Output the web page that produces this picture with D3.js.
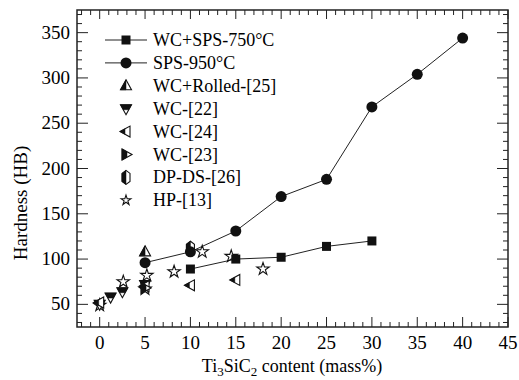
<!DOCTYPE html>
<html><head><meta charset="utf-8">
<script src="https://cdn.jsdelivr.net/npm/d3@7"></script>
</head>
<body style="margin:0">
<svg id="chart" width="519" height="380"></svg>
<script>
// ---- data ----
const xTicks = [0,5,10,15,20,25,30,35,40,45];
const yTicks = [50,100,150,200,250,300,350];
const spsWcX = [10,15,20,25,30];
const spsWcY = [89,100,102,114,120];
const sps950X = [5,10,15,20,25,30,35,40];
const sps950Y = [96,108,131,169,188,268,304,344];
const rolledX = [5];
const rolledY = [108];
const wc22X = [0,1.2,2.5,5];
const wc22Y = [50,58,64,72];
const wc24X = [0,5,10,15];
const wc24Y = [52,70,71,77];
const wc23X = [5];
const wc23Y = [68];
const dpdsX = [10];
const dpdsY = [112];
const hpX = [0,2.6,5.2,5,8.2,11.3,14.5,18];
const hpY = [49,75,82,67,86,108,103,89];
const legendLabels = ["WC+SPS-750°C","SPS-950°C","WC+Rolled-[25]","WC-[22]","WC-[24]","WC-[23]","DP-DS-[26]","HP-[13]"];

const svg = d3.select("#chart");
const L=77,R=508,T=10,B=327;
const x = d3.scaleLinear().domain([-2.5,45]).range([L,R]);
const y = d3.scaleLinear().domain([25,375]).range([B,T]);

const shapes = {
  square: "M-4.5,-4.5H4.5V4.5H-4.5Z",
  triUp: "M0,-6L5.5,4L-5.5,4Z",
  triUpL: "M0,-6L0,4L-5.5,4Z",
  triDown: "M0,6L5.5,-4L-5.5,-4Z",
  triDownT: "M-5.5,-4L5.5,-4L2.75,1L-2.75,1Z",
  triLeft: "M-6,0L4,-5.5L4,5.5Z",
  triLeftL: "M-6,0L-1,-2.75L-1,2.75Z",
  triRight: "M6,0L-4,-5.5L-4,5.5Z",
  triRightL: "M1,-2.75L-4,-5.5L-4,5.5L1,2.75Z",
  hex: "M0,-7L4,-4L4,4L0,7L-4,4L-4,-4Z",
  hexL: "M0,-7L0,7L-4,4L-4,-4Z",
  star: d3.symbol().type(d3.symbolStar).size(48)(),
  starSmall: d3.symbol().type(d3.symbolStar).size(30)()
};

function marker(g, type, halfShape){
  if(type==="circle"){ g.append("circle").attr("r",5.5).attr("fill","#111"); return; }
  if(type==="square"){ g.append("path").attr("d",shapes.square).attr("fill","#111"); return; }
  g.append("path").attr("d",shapes[type]).attr("fill","#fff").attr("stroke","#111").attr("stroke-width",1.1);
  if(halfShape){
    g.append("path").attr("d",shapes[halfShape]).attr("fill","#111").attr("stroke","#111").attr("stroke-width",0.5);
  }
}

function txt(sel){ return sel.style("font-family","'Times New Roman'"); }

const frame = svg.append("g");
const xMinor = d3.range(-2,46,1).filter(v=>v%5!==0);
const yMinor = d3.range(30,375,10).filter(v=>v%50!==0);
const tickG = frame.append("g").attr("stroke","#222").attr("stroke-width",1);
xTicks.forEach(v=>{
  tickG.append("line").attr("x1",x(v)).attr("x2",x(v)).attr("y1",B).attr("y2",B-10);
  tickG.append("line").attr("x1",x(v)).attr("x2",x(v)).attr("y1",T).attr("y2",T+9);
});
xMinor.forEach(v=>{
  tickG.append("line").attr("x1",x(v)).attr("x2",x(v)).attr("y1",B).attr("y2",B-5);
  tickG.append("line").attr("x1",x(v)).attr("x2",x(v)).attr("y1",T).attr("y2",T+5);
});
yTicks.forEach(v=>{
  tickG.append("line").attr("y1",y(v)).attr("y2",y(v)).attr("x1",L).attr("x2",L+11);
  tickG.append("line").attr("y1",y(v)).attr("y2",y(v)).attr("x1",R).attr("x2",R-11);
});
yMinor.forEach(v=>{
  tickG.append("line").attr("y1",y(v)).attr("y2",y(v)).attr("x1",L).attr("x2",L+5);
  tickG.append("line").attr("y1",y(v)).attr("y2",y(v)).attr("x1",R).attr("x2",R-5);
});
frame.append("rect").attr("x",L).attr("y",T).attr("width",R-L).attr("height",B-T)
  .attr("fill","none").attr("stroke","#222").attr("stroke-width",1.5);

txt(frame.selectAll(".xl").data(xTicks).enter().append("text"))
  .attr("x",d=>x(d)).attr("y",349).attr("text-anchor","middle").attr("font-size",19).text(d=>d);
txt(frame.selectAll(".yl").data(yTicks).enter().append("text"))
  .attr("x",70).attr("y",d=>y(d)+6).attr("text-anchor","end").attr("font-size",19).text(d=>d);

const xt = txt(svg.append("text")).attr("x",292).attr("y",372).attr("text-anchor","middle").attr("font-size",18);
xt.append("tspan").text("Ti");
xt.append("tspan").attr("font-size",13).attr("dy",4).text("3");
xt.append("tspan").attr("dy",-4).text("SiC");
xt.append("tspan").attr("font-size",13).attr("dy",4).text("2");
xt.append("tspan").attr("dy",-4).text(" content (mass%)");
txt(svg.append("text")).attr("transform","translate(27,203) rotate(-90)").attr("text-anchor","middle")
  .attr("font-size",19).text("Hardness (HB)");

const line = d3.line().x(d=>x(d[0])).y(d=>y(d[1]));
const plot = svg.append("g");
plot.append("path").datum(d3.zip(spsWcX,spsWcY)).attr("d",line).attr("fill","none").attr("stroke","#222").attr("stroke-width",1);
plot.append("path").datum(d3.zip(sps950X,sps950Y)).attr("d",line).attr("fill","none").attr("stroke","#222").attr("stroke-width",1);

function scatter(xs,ys,type,half){
  d3.zip(xs,ys).forEach(p=>{
    const g = plot.append("g").attr("transform",`translate(${x(p[0])},${y(p[1])})`);
    marker(g,type,half);
  });
}
scatter(hpX,hpY,"star",null);
scatter(wc22X,wc22Y,"triDown","triDownT");
scatter(wc24X,wc24Y,"triLeft","triLeftL");
scatter(wc23X,wc23Y,"triRight","triRightL");
scatter(rolledX,rolledY,"triUp","triUpL");
scatter(dpdsX,dpdsY,"hex","hexL");
scatter(spsWcX,spsWcY,"square",null);
scatter(sps950X,sps950Y,"circle",null);

const legTypes = [["square",null,true],["circle",null,true],["triUp","triUpL",false],["triDown","triDownT",false],["triLeft","triLeftL",false],["triRight","triRightL",false],["hex","hexL",false],["starSmall",null,false]];
const leg = svg.append("g");
legendLabels.forEach((lab,i)=>{
  const yy = 40 + i*22.9;
  const [type,half,hasLine] = legTypes[i];
  if(hasLine) leg.append("line").attr("x1",105).attr("x2",147).attr("y1",yy).attr("y2",yy).attr("stroke","#222").attr("stroke-width",1);
  const g = leg.append("g").attr("transform",`translate(126,${yy})`);
  marker(g,type,half);
  txt(leg.append("text")).attr("x",153).attr("y",yy+6).attr("font-size",18).text(lab);
});
</script>
</body></html>
